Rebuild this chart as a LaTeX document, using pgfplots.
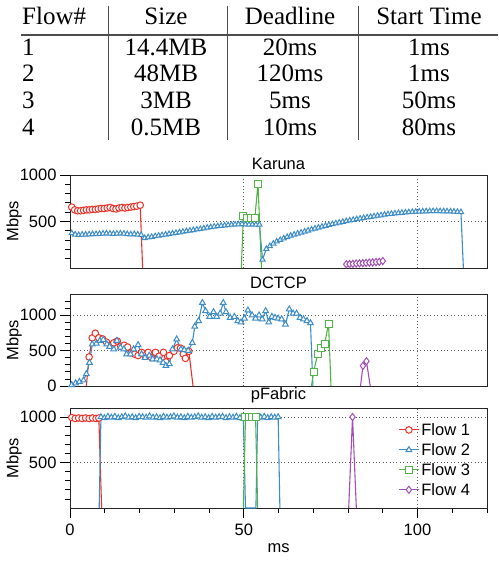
\documentclass[border=0pt]{standalone}
\usepackage{pgfplots}
\pgfplotsset{compat=1.18}
\usepackage{fontspec}
\setmainfont{Liberation Sans}
\newfontfamily\tabfont{Liberation Serif}
\definecolor{c1}{RGB}{235,50,40}
\definecolor{c2}{RGB}{60,140,200}
\definecolor{c3}{RGB}{80,180,70}
\definecolor{c4}{RGB}{160,80,180}
\newcommand{\chf}{\fontsize{16.5}{19}\selectfont}
\pgfplotsset{
  base/.style={
    scale only axis, width=417pt,
    xmin=0, xmax=120,
    axis line style={black!85, line width=0.9pt},
    tick style={black, line width=0.8pt},
    major tick length=10pt, minor tick length=5pt,
    tick align=outside,
    xtick pos=bottom, ytick pos=left,
    grid=major,
    major grid style={dash pattern=on 0.8pt off 2.6pt, black!65, line width=0.8pt},
    /pgf/number format/assume math mode=true,
    /pgf/number format/1000 sep={},
    ticklabel style={font=\chf},
    xticklabel style={yshift=-2pt},
    title style={font=\chf, yshift=-4pt},
    ylabel={Mbps}, ylabel style={font=\chf},
    ylabel shift=-9pt,
    clip=false,
    every axis plot/.append style={line width=1.1pt},
    legend image code/.code={\draw[##1, mark indices={2}] plot coordinates {(0cm,0cm) (0.35cm,0cm) (0.7cm,0cm)};},
  },
  f1/.style={c1, mark=*, mark size=3.3pt, mark options={fill=white, draw=c1, line width=1pt}},
  f2/.style={c2, mark=triangle*, mark size=3.3pt, mark options={fill=white, draw=c2, line width=1pt}},
  f3/.style={c3, mark=square*, mark size=3.5pt, mark options={fill=white, draw=c3, line width=1pt}},
  f4/.style={c4, mark=diamond*, mark size=3.6pt, mark options={fill=white, draw=c4, line width=1pt}},
}
\begin{document}
\begin{tikzpicture}
% ---------- table ----------
\begin{scope}[every node/.style={inner sep=0pt, font=\tabfont\fontsize{25}{30}\selectfont}]
\node[anchor=base west] at (22pt,536pt) {Flow\#};
\node[anchor=base] at (166pt,536pt) {Size};
\node[anchor=base] at (290pt,536pt) {Deadline};
\node[anchor=base] at (429pt,536pt) {Start Time};
\node[anchor=base west] at (22pt,505.7pt) {1};
\node[anchor=base] at (166pt,505.7pt) {14.4MB};
\node[anchor=base] at (290pt,505.7pt) {20ms};
\node[anchor=base] at (429pt,505.7pt) {1ms};
\node[anchor=base west] at (22pt,479pt) {2};
\node[anchor=base] at (166pt,479pt) {48MB};
\node[anchor=base] at (290pt,479pt) {120ms};
\node[anchor=base] at (429pt,479pt) {1ms};
\node[anchor=base west] at (22pt,452.3pt) {3};
\node[anchor=base] at (166pt,452.3pt) {3MB};
\node[anchor=base] at (290pt,452.3pt) {5ms};
\node[anchor=base] at (429pt,452.3pt) {50ms};
\node[anchor=base west] at (22pt,425.7pt) {4};
\node[anchor=base] at (166pt,425.7pt) {0.5MB};
\node[anchor=base] at (290pt,425.7pt) {10ms};
\node[anchor=base] at (429pt,425.7pt) {80ms};
\end{scope}
\draw[black!70, line width=1.5pt] (21pt,526pt) -- (498pt,526pt);
\draw[black!70, line width=1.2pt] (108.3pt,554.5pt) -- (108.3pt,421pt);
\draw[black!70, line width=1.2pt] (227.7pt,554.5pt) -- (227.7pt,421pt);
\draw[black!70, line width=1.2pt] (358.3pt,554.5pt) -- (358.3pt,421pt);

% ---------- Karuna ----------
\begin{axis}[base, at={(70pt,293pt)}, anchor=south west, height=93pt,
  title={Karuna}, ymin=0, ymax=1000, ytick={500,1000},
  minor ytick={100,200,...,900},
  xtick={50,100}, xticklabels={}, xtick style={draw=none}]
\addplot[f1, mark indices={1,...,24}] coordinates {
(0.5,655)(1.35,625)(2.2,615)(3.05,615)(3.9,620)(4.75,625)(5.6,625)(6.45,630)
(7.3,630)(8.15,635)(9.0,640)(9.85,640)(10.7,645)(11.55,650)(12.4,640)(13.25,635)
(14.1,645)(14.95,650)(15.8,645)(16.65,650)(17.5,655)(18.35,660)(19.2,665)(20.2,675)
(20.9,0)};
\addplot[f2, mark size=3pt, mark indices={1,...,113}] coordinates {
(0.5,375)(1.5,360)(2.5,355)(3.5,360)(4.5,360)(5.5,362)(6.5,365)(7.5,365)(8.5,368)
(9.5,370)(10.5,372)(11.5,370)(12.5,368)(13.5,370)(14.5,372)(15.5,370)(16.5,365)
(17.5,362)(18.5,365)(19.5,360)(20.5,355)
(21.5,322)(22.5,330)(23.5,335)(24.5,342)(25.5,348)(26.5,353)(27.5,360)(28.5,366)
(29.5,371)(30.5,378)(31.5,384)(32.5,390)(33.5,396)(34.5,402)(35.5,408)(36.5,414)
(37.5,420)(38.5,426)(39.5,433)(40.5,439)(41.5,445)(42.5,449)(43.5,453)(44.5,457)
(45.5,461)(46.5,465)(47.5,468)(48.5,470)(49.5,472)(50.5,468)(51.5,466)(52.5,468)
(53.5,465)(54.5,466)
(55.4,90)
(56.5,205)(57.5,235)(58.5,262)(59.5,285)(60.5,302)(61.5,318)(62.5,333)(63.5,347)
(64.5,359)(65.5,370)(66.5,381)(67.5,392)(68.5,403)(69.5,414)(70.5,424)(71.5,434)
(72.5,444)(73.5,454)(74.5,463)(75.5,472)(76.5,480)(77.5,488)(78.5,496)(79.5,504)
(80.5,511)(81.5,518)(82.5,525)(83.5,532)(84.5,538)(85.5,544)(86.5,550)(87.5,556)
(88.5,562)(89.5,567)(90.5,573)(91.5,578)(92.5,583)(93.5,587)(94.5,591)(95.5,594)
(96.5,597)(97.5,600)(98.5,603)(99.5,605)(100.5,607)(101.5,609)(102.5,610)(103.5,611)
(104.5,612)(105.5,612)(106.5,611)(107.5,610)(108.5,609)(109.5,608)(110.5,606)
(111.5,604)(112.5,602)(113.2,0)};
\addplot[f3, mark indices={2,...,6}] coordinates {
(49.3,0)(49.9,555)(50.9,535)(52.0,535)(53.2,540)(54.1,905)(55.1,0)};
\addplot[f4] coordinates {
(79.5,40)(80.45,42)(81.4,45)(82.35,48)(83.3,50)(84.25,52)(85.2,55)(86.15,58)
(87.1,60)(88.05,63)(89.0,66)(90.0,75)};
\end{axis}

% ---------- DCTCP ----------
\begin{axis}[base, at={(70pt,175pt)}, anchor=south west, height=92pt,
  title={DCTCP}, ymin=0, ymax=1300, ytick={0,500,1000},
  minor ytick={100,200,...,1200},
  xtick={50,100}, xticklabels={}, xtick style={draw=none}]
\addplot[f1, mark indices={2,...,31}] coordinates {
(4.7,0)(5.5,410)(6.4,680)(7.3,745)(8.3,680)(9.4,665)(10.5,620)(11.6,575)(12.6,610)
(13.6,635)(14.6,560)(15.6,575)(16.6,550)(17.6,470)(18.6,450)(19.6,430)(20.6,475)
(21.6,430)(22.5,475)(23.5,400)(24.6,475)(25.6,420)(26.9,475)(27.6,340)(28.6,430)
(29.9,490)(30.9,540)(31.8,535)(32.6,450)(33.2,390)(34.2,490)(35.4,0)};
\addplot[f2, mark indices={1,...,69}] coordinates {
(0.5,15)(1.6,40)(2.7,60)(3.9,80)(4.7,170)(5.6,330)(6.4,590)(7.6,600)(8.6,640)
(9.6,655)(10.6,590)(11.4,555)(12.6,520)(13.5,640)(14.5,545)(15.5,520)(16.3,450)
(17.4,450)(18.3,520)(19.6,580)(20.6,450)(21.6,400)(22.8,430)(23.8,380)(25.0,380)
(25.9,365)(26.8,330)(27.6,285)(28.6,310)(29.5,520)(30.7,660)(31.9,520)(32.9,510)
(34.0,500)(35.2,610)(35.9,840)(37.0,920)(38.1,1175)(39.0,1060)(40.2,980)(41.3,1045)
(42.2,980)(43.2,1025)(44.1,1175)(44.9,1045)(46.1,965)(47.3,980)(48.3,920)(49.2,900)
(50.2,955)(51.2,1070)(52.4,1000)(53.4,955)(54.4,1000)(55.3,945)(56.3,1060)(57.2,900)
(58.1,980)(59.0,965)(59.9,955)(60.9,945)(62.0,870)(63.1,1085)(64.2,1025)(65.2,1025)
(66.2,965)(67.2,945)(68.2,920)(69.2,890)(69.9,0)};
\addplot[f3, mark indices={2,...,6}] coordinates {
(69.5,0)(70.1,204)(71.3,455)(72.3,535)(73.3,600)(74.4,880)(75.1,0)};
\addplot[f4, mark indices={2,3}] coordinates {
(83.6,0)(84.3,285)(85.3,350)(86.4,0)};
\end{axis}

% ---------- pFabric ----------
\begin{axis}[base, at={(70pt,53pt)}, anchor=south west, height=100pt,
  title={pFabric}, ymin=0, ymax=1100, ytick={500,1000},
  minor ytick={100,200,...,1000},
  xtick={0,50,100}, minor xtick={10,20,...,120},
  xlabel={ms}, xlabel style={font=\chf, yshift=-2pt},
  legend style={at={(0.787,0.87)}, anchor=north west, draw=none, fill=none,
    font=\chf, row sep=2.5pt, inner sep=0pt},
  legend cell align=left]
\addplot[f1, mark indices={1,...,9}] coordinates {
(0.5,995)(1.5,985)(2.5,990)(3.5,985)(4.5,990)(5.5,985)(6.5,990)(7.5,985)(8.3,990)(9.1,0)};
\addlegendentry{Flow 1}
\addplot[f2, mark indices={2,...,43,46,47,48,49,50,51,52}] coordinates {
(8.4,0)(8.9,1000)(9.9,990)(10.9,1005)(11.9,995)(12.9,1005)(13.9,990)(14.9,1000)
(15.9,1010)(16.9,995)(17.9,1000)(18.9,990)(19.9,1005)(20.9,1000)(21.9,995)(22.9,1010)
(23.9,995)(24.9,1000)(25.9,990)(26.9,1005)(27.9,995)(28.9,1000)(29.9,1010)(30.9,995)
(31.9,1000)(32.9,990)(33.9,1005)(34.9,995)(35.9,1000)(36.9,1010)(37.9,995)(38.9,1000)
(39.9,990)(40.9,1005)(41.9,995)(42.9,1000)(43.9,1005)(44.9,990)(45.9,1000)(46.9,995)
(47.9,1005)(48.9,990)(49.9,985)(50.5,0)(53.5,0)(54.0,1000)(54.9,995)(55.9,1005)
(56.9,990)(57.9,1000)(58.9,995)(59.9,1000)(60.4,0)};
\addlegendentry{Flow 2}
\addplot[f3, mark indices={2,...,5}] coordinates {
(49.9,0)(50.5,1000)(51.5,1000)(52.4,1000)(53.4,1000)(54.0,0)};
\addlegendentry{Flow 3}
\addplot[f4, mark indices={2}] coordinates {
(80.2,0)(81.3,1000)(82.4,0)};
\addlegendentry{Flow 4}
\end{axis}
\pgfresetboundingbox
\path (0,0) rectangle (498pt,561pt);
\end{tikzpicture}
\end{document}
